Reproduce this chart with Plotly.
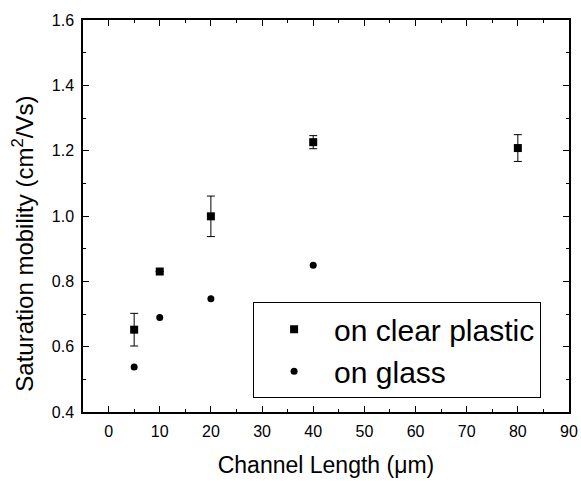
import plotly.graph_objects as go

channel_length = [5, 10, 20, 40, 80]
plastic_mobility = [0.652, 0.830, 0.999, 1.226, 1.208]
plastic_error = [0.050, 0.0, 0.062, 0.020, 0.041]
glass_length = [5, 10, 20, 40]
glass_mobility = [0.538, 0.689, 0.747, 0.849]

x_ticks = [0, 10, 20, 30, 40, 50, 60, 70, 80, 90]
y_ticks = [0.4, 0.6, 0.8, 1.0, 1.2, 1.4, 1.6]

FONT = "Liberation Sans, Arial, sans-serif"

fig = go.Figure()
fig.add_trace(go.Scatter(
    x=channel_length, y=plastic_mobility, mode="markers",
    name="on clear plastic",
    marker=dict(symbol="square", size=8, color="black"),
    error_y=dict(type="data", array=plastic_error, visible=True,
                 color="black", thickness=1, width=4),
))
fig.add_trace(go.Scatter(
    x=glass_length, y=glass_mobility, mode="markers",
    name="on glass",
    marker=dict(symbol="circle", size=7, color="black"),
))

axis_common = dict(
    showline=True, linecolor="black", linewidth=1.5, mirror="ticks",
    ticks="inside", ticklen=6, tickwidth=1.2, tickcolor="black",
    showgrid=False, zeroline=False, automargin=False,
    tickfont=dict(family=FONT, size=16, color="black"),
)

fig.update_xaxes(
    range=[-5, 90], tickvals=x_ticks, ticklabelstandoff=4,
    minor=dict(ticks="inside", dtick=5, tick0=0, ticklen=3, tickcolor="black", tickwidth=1),
    title=dict(text="Channel Length (\u03bcm)", font=dict(family=FONT, size=23, color="black"), standoff=18),
    **axis_common,
)
fig.update_yaxes(
    range=[0.4, 1.6], tickvals=y_ticks, tickformat=".1f", ticklabelstandoff=4,
    minor=dict(ticks="inside", dtick=0.1, tick0=0.4, ticklen=3, tickcolor="black", tickwidth=1),
    **axis_common,
)

fig.add_annotation(
    text="Saturation mobility (cm<sup>2</sup>/Vs)", textangle=-90,
    xref="paper", yref="paper", x=-0.123, y=0.43,
    xanchor="center", yanchor="middle", showarrow=False,
    font=dict(family=FONT, size=24, color="black"),
)

fig.update_layout(
    width=581, height=481,
    margin=dict(l=83, r=12, t=20, b=69, autoexpand=False),
    paper_bgcolor="white", plot_bgcolor="white",
    legend=dict(
        x=0.35, xanchor="left", y=0.28, yanchor="top",
        bordercolor="black", borderwidth=1, bgcolor="white",
        font=dict(family=FONT, size=30, color="black"),
        itemwidth=70, tracegroupgap=0,
    ),
)

fig.write_html("out.html", config={"displayModeBar": False},
               post_script="document.body.style.margin='0';")
